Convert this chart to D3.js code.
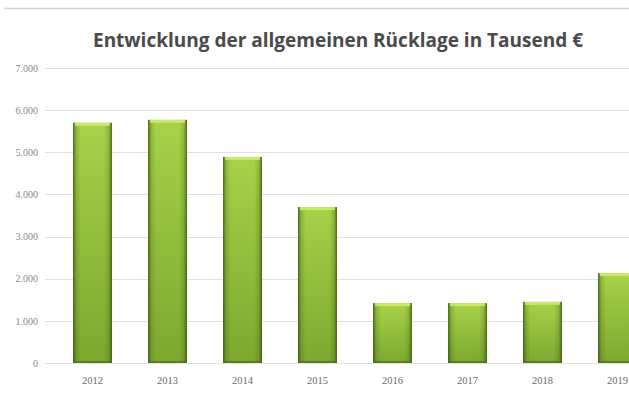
<!DOCTYPE html>
<html>
<head>
<meta charset="utf-8">
<script src="https://cdn.jsdelivr.net/npm/d3@7"></script>
<style>
  body { margin: 0; background: #fff; }
  svg { display: block; }
</style>
</head>
<body>
<div id="chart"></div>
<script>
// data
var years = ['2012', '2013', '2014', '2015', '2016', '2017', '2018', '2019'];
var values = [5700, 5770, 4890, 3700, 1420, 1420, 1450, 2130];
var yTicks = [0, 1000, 2000, 3000, 4000, 5000, 6000, 7000];
var titleText = 'Entwicklung der allgemeinen Rücklage in Tausend €';

var svgWidth = 629,
    svgHeight = 395;

var svg = d3.select('#chart').append('svg')
    .attr('width', svgWidth)
    .attr('height', svgHeight);

var defs = svg.append('defs');

var vGrad = defs.append('linearGradient')
    .attr('id', 'barV')
    .attr('x1', 0).attr('y1', 0).attr('x2', 0).attr('y2', 1);
vGrad.append('stop').attr('offset', '0%').attr('stop-color', '#a8d248');
vGrad.append('stop').attr('offset', '100%').attr('stop-color', '#7ca830');

var hGrad = defs.append('linearGradient')
    .attr('id', 'barH')
    .attr('x1', 0).attr('y1', 0).attr('x2', 1).attr('y2', 0);
hGrad.append('stop').attr('offset', '0%').attr('stop-color', '#2f4a0c').attr('stop-opacity', 0.75);
hGrad.append('stop').attr('offset', '8%').attr('stop-color', '#2f4a0c').attr('stop-opacity', 0.2);
hGrad.append('stop').attr('offset', '20%').attr('stop-color', '#2f4a0c').attr('stop-opacity', 0);
hGrad.append('stop').attr('offset', '80%').attr('stop-color', '#2f4a0c').attr('stop-opacity', 0);
hGrad.append('stop').attr('offset', '92%').attr('stop-color', '#2f4a0c').attr('stop-opacity', 0.2);
hGrad.append('stop').attr('offset', '100%').attr('stop-color', '#2f4a0c').attr('stop-opacity', 0.75);

// frame line at the top
svg.append('line')
    .attr('x1', 4).attr('x2', svgWidth)
    .attr('y1', 8.5).attr('y2', 8.5)
    .attr('stroke', '#d4d4d4')
    .attr('stroke-width', 1.5);

svg.append('text')
    .attr('x', 338)
    .attr('y', 47)
    .attr('text-anchor', 'middle')
    .style('font-family', 'Open Sans, sans-serif')
    .style('font-weight', 700)
    .style('font-size', '19px')
    .attr('fill', '#4a4a4a')
    .text(titleText);

var x = d3.scaleBand()
    .domain(years)
    .range([55, 655])
    .paddingInner(0.48)
    .paddingOuter(0.24);

var y = d3.scaleLinear()
    .domain([0, 7000])
    .range([363, 68]);

var fmt = function (d) {
    return d === 0 ? '0' : d3.format(',')(d).replace(/,/g, '.');
};

// grid lines
svg.append('g')
    .selectAll('line')
    .data(yTicks)
    .join('line')
    .attr('x1', 45)
    .attr('x2', svgWidth)
    .attr('y1', function (d) { return Math.round(y(d)) + 0.5; })
    .attr('y2', function (d) { return Math.round(y(d)) + 0.5; })
    .attr('stroke', '#e2e2e2')
    .attr('stroke-width', 1);

var yAxis = d3.axisLeft(y)
    .tickValues(yTicks)
    .tickFormat(fmt)
    .tickSize(0)
    .tickPadding(0);

svg.append('g')
    .attr('transform', 'translate(38,0)')
    .call(yAxis)
    .call(function (g) { g.select('.domain').remove(); })
    .selectAll('text')
    .style('font-family', 'Liberation Serif, serif')
    .style('font-size', '10px')
    .attr('fill', '#8a8a8a');

var xAxis = d3.axisBottom(x)
    .tickSize(0)
    .tickPadding(0);

svg.append('g')
    .attr('transform', 'translate(0,377)')
    .call(xAxis)
    .call(function (g) { g.select('.domain').remove(); })
    .selectAll('text')
    .style('font-family', 'Liberation Serif, serif')
    .style('font-size', '10.5px')
    .attr('fill', '#6a6a6a');

var bars = svg.append('g')
    .selectAll('g')
    .data(years)
    .join('g');

bars.append('rect')
    .attr('x', function (d) { return x(d); })
    .attr('y', function (d, i) { return y(values[i]); })
    .attr('width', x.bandwidth())
    .attr('height', function (d, i) { return y(0) - y(values[i]); })
    .attr('fill', 'url(#barV)');

bars.append('rect')
    .attr('x', function (d) { return x(d); })
    .attr('y', function (d, i) { return y(values[i]); })
    .attr('width', x.bandwidth())
    .attr('height', function (d, i) { return y(0) - y(values[i]); })
    .attr('fill', 'url(#barH)');

// light top cap
bars.append('rect')
    .attr('x', function (d) { return x(d) + 2; })
    .attr('y', function (d, i) { return y(values[i]); })
    .attr('width', x.bandwidth() - 4)
    .attr('height', 3)
    .attr('fill', '#cde873')
    .attr('opacity', 0.9);

// dark bottom edge
bars.append('rect')
    .attr('x', function (d) { return x(d); })
    .attr('y', y(0) - 2)
    .attr('width', x.bandwidth())
    .attr('height', 2)
    .attr('fill', '#4f6e18')
    .attr('opacity', 0.7);
</script>
</body>
</html>
